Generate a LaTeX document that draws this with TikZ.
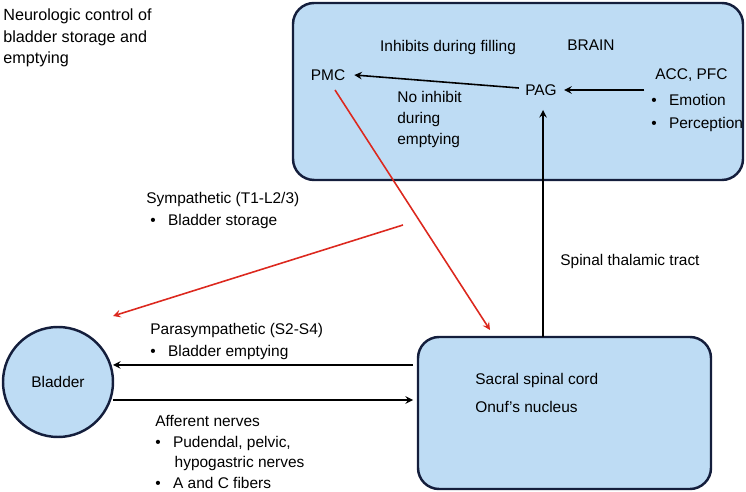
\documentclass[tikz,border=0pt]{standalone}
\usepackage{fontspec}
\setmainfont{Liberation Sans}
\usetikzlibrary{positioning}
\definecolor{boxfill}{RGB}{190,220,244}
\definecolor{boxline}{RGB}{20,30,60}
\definecolor{redline}{RGB}{220,40,30}
\tikzset{
  panel/.style={draw=boxline, fill=boxfill, line width=1.4pt, rounded corners=12pt},
  txt/.style={inner sep=0pt, align=left, font=\fontsize{8.8}{12}\selectfont},
  arr/.style={->, line width=0.9pt, >=stealth},
  redarr/.style={->, line width=0.9pt, >=stealth, draw=redline}
}
\begin{document}
\begin{tikzpicture}[x=0.02cm, y=-0.02cm]
        \useasboundingbox (0,0) rectangle (746,492);
        % boxes
        \draw[panel] (293,3) rectangle (743,180);
        \draw[panel] (418,337) rectangle (711,489);
        \draw[draw=boxline, fill=boxfill, line width=1.4pt] (58,382) circle (55);
        \node[txt] (bladder) at (58,382) {Bladder};

        % title
        \node[txt, anchor=north west, font=\fontsize{9.2}{12.5}\selectfont] (title) at (3,8) {Neurologic control of\\bladder storage and\\emptying};

        % brain
        \node[txt] (brain) at (591,45) {BRAIN};
        \node[txt] (pmc) at (328,75) {PMC};
        \node[txt] (pag) at (541,90) {PAG};
        \node[txt, anchor=west] (acc) at (655,75) {ACC, PFC};
        \node[txt, anchor=west] (emo) at (651,100) {\textbullet\hspace{7pt}Emotion};
        \node[txt, anchor=west] (per) at (651,125) {\textbullet\hspace{7pt}Perception};
        \node[txt] (inhib) at (448,48) {Inhibits during filling};
        \node[txt, anchor=north west] (noinhib) at (397,91) {No inhibit\\during\\emptying};

        % sacral
        \node[txt, anchor=west] (sacral) at (475,381) {Sacral spinal cord};
        \node[txt, anchor=west] (onuf) at (475,407) {Onuf’s nucleus};

        % labels
        \node[txt, anchor=west] (spinal) at (560,262) {Spinal thalamic tract};
        \node[txt, anchor=west] (symp) at (146,200) {Sympathetic (T1-L2/3)};
        \node[txt, anchor=west] (stor) at (150,222) {\textbullet\hspace{7pt}Bladder storage};
        \node[txt, anchor=west] (para) at (150,331) {Parasympathetic (S2-S4)};
        \node[txt, anchor=west] (empt) at (150,353) {\textbullet\hspace{7pt}Bladder emptying};
        \node[txt, anchor=north west, font=\fontsize{8.8}{11.7}\selectfont] (aff) at (155,415) {Afferent nerves\\\textbullet\hspace{7pt}Pudendal, pelvic,\\\hspace{11pt}hypogastric nerves\\\textbullet\hspace{7pt}A and C fibers};

        % connectors
        \coordinate (pagtop) at (543,110);
        \coordinate (sactop) at (543,337);
        \coordinate (pmcfoot) at (335,90);
        \coordinate (sacred) at (490,330);
        \coordinate (sympfrom) at (403,225);
        \coordinate (sympto) at (113,316);
        \coordinate (parafrom) at (413,365);
        \coordinate (parato) at (113,365);
        \coordinate (afffrom) at (113,400);
        \coordinate (affto) at (413,400);
        \draw[arr] (pag.west) ++(-6,-2) -- ([xshift=5pt]pmc.east);
        \draw[arr] ([xshift=-6pt]acc.west|-pag) -- ([xshift=4pt]pag.east);
        \draw[arr] (sactop) -- (pagtop);
        \draw[redarr] (pmcfoot) -- (sacred);
        \draw[redarr] (sympfrom) -- (sympto);
        \draw[arr] (parafrom) -- (parato);
        \draw[arr] (afffrom) -- (affto);
\end{tikzpicture}
\end{document}
